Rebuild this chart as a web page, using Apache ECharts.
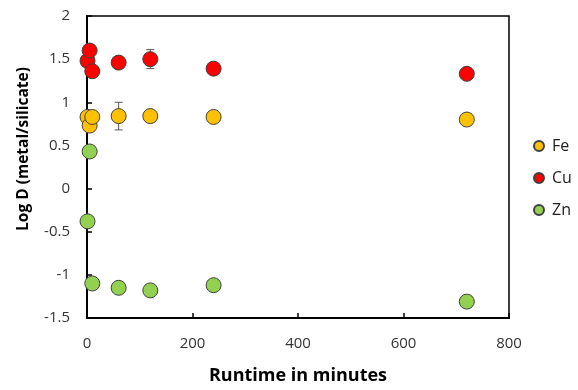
<!DOCTYPE html>
<html><head><meta charset="utf-8">
<script src="https://cdn.jsdelivr.net/npm/echarts@6/dist/echarts.min.js"></script>
<style>html,body{margin:0;padding:0;background:#fff}#c{width:578px;height:390px}</style>
</head><body><div id="c"></div>
<script>
var runtime = [1, 5, 10, 60, 120, 240, 720];
var feLogD = [0.83, 0.73, 0.83, 0.84, 0.84, 0.83, 0.80];
var cuLogD = [1.48, 1.60, 1.36, 1.46, 1.50, 1.39, 1.33];
var znLogD = [-0.38, 0.43, -1.10, -1.15, -1.18, -1.12, -1.31];
var feErr = [0.02, 0.02, 0.02, 0.16, 0.02, 0.02, 0.02];
var cuErr = [0.02, 0.02, 0.02, 0.02, 0.11, 0.02, 0.02];
var znErr = [0.02, 0.02, 0.04, 0.02, 0.02, 0.02, 0.02];
var xTicks = [0, 200, 400, 600, 800];
var yTicks = [-1.5, -1, -0.5, 0, 0.5, 1, 1.5, 2];

function pts(ys){ return runtime.map(function(x,i){ return [x, ys[i]]; }); }
function errs(ys, es){ return runtime.map(function(x,i){ return [x, ys[i]-es[i], ys[i]+es[i]]; }); }

function errSeries(ys, es){
  return {
    type: 'custom', silent: true, z: 1,
    data: errs(ys, es),
    renderItem: function(params, api){
      var lo = api.coord([api.value(0), api.value(1)]);
      var hi = api.coord([api.value(0), api.value(2)]);
      var w = 4;
      var st = {stroke: '#555', lineWidth: 1, fill: null};
      return {type: 'group', children: [
        {type:'line', shape:{x1:lo[0],y1:lo[1],x2:hi[0],y2:hi[1]}, style:st},
        {type:'line', shape:{x1:lo[0]-w,y1:lo[1],x2:lo[0]+w,y2:lo[1]}, style:st},
        {type:'line', shape:{x1:hi[0]-w,y1:hi[1],x2:hi[0]+w,y2:hi[1]}, style:st}
      ]};
    }
  };
}

var font = '"Open Sans", "Liberation Sans", sans-serif';
function sc(name, ys, color){
  return {
    name: name, type: 'scatter', symbol: 'circle', symbolSize: 15, z: 3,
    data: pts(ys),
    itemStyle: {color: color, borderColor: '#404040', borderWidth: 1, opacity: 1}
  };
}

var chart = echarts.init(document.getElementById('c'), null, {renderer: 'canvas'});
chart.setOption({
  animation: false,
  backgroundColor: '#fff',
  grid: {left: 87, right: 69, top: 16, bottom: 70, show: true, borderColor: '#000', borderWidth: 1.5},
  legend: {
    orient: 'vertical', left: 533, top: 138, padding: 0, itemGap: 16, itemWidth: 10, itemHeight: 10,
    icon: 'circle',
    data: ['Fe', 'Cu', 'Zn'],
    textStyle: {fontFamily: font, fontSize: 16, color: '#222', padding: [0, 0, 0, 3]}
  },
  xAxis: {
    type: 'value', min: xTicks[0], max: xTicks[xTicks.length-1], interval: 200,
    name: 'Runtime in minutes', nameLocation: 'middle', nameGap: 49,
    nameTextStyle: {fontFamily: font, fontSize: 18, fontWeight: 'bold', color: '#000'},
    axisLine: {show: true, onZero: false, lineStyle: {color: '#000', width: 2}},
    axisTick: {show: true, inside: true, length: 5, lineStyle: {color: '#000', width: 1.5}},
    axisLabel: {fontFamily: font, fontSize: 15, color: '#333', margin: 18},
    splitLine: {show: false}
  },
  yAxis: {
    type: 'value', min: yTicks[0], max: yTicks[yTicks.length-1], interval: 0.5,
    name: 'Log D (metal/silicate)', nameLocation: 'middle', nameGap: 55,
    nameTextStyle: {fontFamily: font, fontSize: 15.5, fontWeight: 'bold', color: '#000', padding: [0, 0, 0, 36]},
    axisLine: {show: true, onZero: false, lineStyle: {color: '#000', width: 2}},
    axisTick: {show: true, inside: true, length: 5, lineStyle: {color: '#000', width: 1.5}},
    axisLabel: {fontFamily: font, fontSize: 15, color: '#333', margin: 17},
    splitLine: {show: false}
  },
  series: [
    errSeries(feLogD, feErr), errSeries(cuLogD, cuErr), errSeries(znLogD, znErr),
    sc('Fe', feLogD, '#FFC000'),
    sc('Cu', cuLogD, '#FF0000'),
    sc('Zn', znLogD, '#92D050')
  ]
});
</script></body></html>
